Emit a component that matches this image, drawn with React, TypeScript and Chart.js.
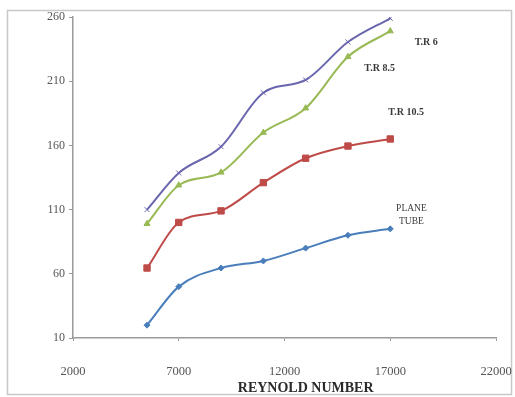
import React, { useEffect, useRef } from "react";
import { Chart, registerables } from "chart.js";

Chart.register(...registerables);

// Reynolds numbers at which each tube was tested
const reynolds = [5500, 7000, 9000, 11000, 13000, 15000, 17000];

// Nusselt-type response per tube configuration
const plainTube = [20, 50, 64.5, 70, 80, 90, 95];
const tr105 = [64.5, 100, 109, 131, 150, 159.5, 165];
const tr85 = [99, 129, 139, 170, 189, 229, 249];
const tr6 = [110, 138.5, 159, 201, 211, 240.5, 259];

const yTicks = [10, 60, 110, 160, 210, 260];
const xTicks = [2000, 7000, 12000, 17000, 22000];

const xAxisTitle = "REYNOLD NUMBER";
const xAxisTitleAt = 13000;

// Curve labels placed in data space
const curveLabels = [
  { text: ["T.R 6"], x: 18700, y: 240 },
  { text: ["T.R 8.5"], x: 16500, y: 220 },
  { text: ["T.R 10.5"], x: 17750, y: 186 },
  { text: ["PLANE", "TUBE"], x: 18000, y: 106 },
];

const SERIF = "'Liberation Serif', 'DejaVu Serif', serif";

const toPoints = (ys: number[]) => ys.map((y, i) => ({ x: reynolds[i], y }));

const frame = {
  id: "frame",
  beforeDraw(chart: any) {
    const { ctx, width, height } = chart;
    ctx.save();
    ctx.fillStyle = "#ffffff";
    ctx.fillRect(0, 0, width, height);
    ctx.strokeStyle = "#c8c8c8";
    ctx.lineWidth = 1.5;
    ctx.strokeRect(7.5, 10.5, width - 11, height - 13);
    ctx.restore();
  },
};

const labelsPlugin = {
  id: "curveLabels",
  afterDatasetsDraw(chart: any) {
    const { ctx, scales } = chart;
    ctx.save();
    ctx.fillStyle = "#3a3a3a";
    ctx.textAlign = "center";
    ctx.textBaseline = "middle";
    curveLabels.forEach((l) => {
      const px = scales.x.getPixelForValue(l.x);
      const py = scales.y.getPixelForValue(l.y);
      const lh = 13;
      const start = py - ((l.text.length - 1) * lh) / 2;
      ctx.font = l.text.length > 1 ? `9.5px ${SERIF}` : `bold 10px ${SERIF}`;
      l.text.forEach((t, i) => {
        ctx.fillText(t, px, start + i * lh);
      });
    });
    // axis title under the x tick labels
    ctx.fillStyle = "#2a2a2a";
    ctx.font = `bold 14px ${SERIF}`;
    ctx.fillText(xAxisTitle, scales.x.getPixelForValue(xAxisTitleAt), scales.x.bottom - 9);
    ctx.restore();
  },
};

export default function App() {
  const ref = useRef<HTMLCanvasElement | null>(null);

  useEffect(() => {
    document.body.style.margin = "0";
    if (!ref.current) return;
    const common = { borderWidth: 2, cubicInterpolationMode: "monotone" as const, pointBorderWidth: 1 };
    const chart = new Chart(ref.current, {
      type: "line",
      data: {
        datasets: [
          {
            label: "PLANE TUBE",
            data: toPoints(plainTube),
            borderColor: "#4A7EBB",
            backgroundColor: "#4A7EBB",
            pointStyle: "rectRot",
            pointRadius: 3,
            ...common,
          },
          {
            label: "T.R 10.5",
            data: toPoints(tr105),
            borderColor: "#BE4B48",
            backgroundColor: "#BE4B48",
            pointStyle: "rect",
            pointRadius: 4.5,
            ...common,
          },
          {
            label: "T.R 8.5",
            data: toPoints(tr85),
            borderColor: "#98B954",
            backgroundColor: "#98B954",
            pointStyle: "triangle",
            pointRadius: 3.5,
            ...common,
          },
          {
            label: "T.R 6",
            data: toPoints(tr6),
            borderColor: "#6A66AE",
            backgroundColor: "#6A66AE",
            pointStyle: "crossRot",
            pointRadius: 3.5,
            ...common,
          },
        ],
      },
      options: {
        responsive: false,
        animation: false,
        layout: { padding: { top: 17, right: 19, bottom: 0, left: 0 } },
        plugins: {
          legend: { display: false },
          tooltip: { enabled: false },
        },
        scales: {
          x: {
            type: "linear",
            min: 2000,
            max: 22000,
            afterBuildTicks: (s: any) => {
              s.ticks = xTicks.map((v) => ({ value: v }));
            },
            afterFit: (s: any) => {
              s.height = 59;
              s.paddingLeft = 0;
              s.paddingRight = 0;
            },
            grid: { drawOnChartArea: false, drawTicks: true, tickLength: 3, color: "#9a9a9a" },
            border: { display: true, color: "#9a9a9a", width: 1.5 },
            ticks: {
              padding: 23,
              color: "#555555",
              font: { family: SERIF, size: 12.5 },
              maxRotation: 0,
              callback: (v: any) => String(v),
            },
          },
          y: {
            type: "linear",
            min: 10,
            max: 260,
            afterBuildTicks: (s: any) => {
              s.ticks = yTicks.map((v) => ({ value: v }));
            },
            afterFit: (s: any) => {
              s.width = 73;
            },
            grid: { drawOnChartArea: false, drawTicks: true, tickLength: 4, color: "#9a9a9a" },
            border: { display: true, color: "#9a9a9a", width: 1.5 },
            ticks: {
              padding: 4,
              color: "#555555",
              font: { family: SERIF, size: 12 },
              callback: (v: any) => String(v),
            },
          },
        },
      },
      plugins: [frame, labelsPlugin],
    });
    return () => chart.destroy();
  }, []);

  return (
    <div style={{ width: 515, height: 397 }}>
      <canvas ref={ref} width={515} height={397} style={{ display: "block" }} />
    </div>
  );
}
